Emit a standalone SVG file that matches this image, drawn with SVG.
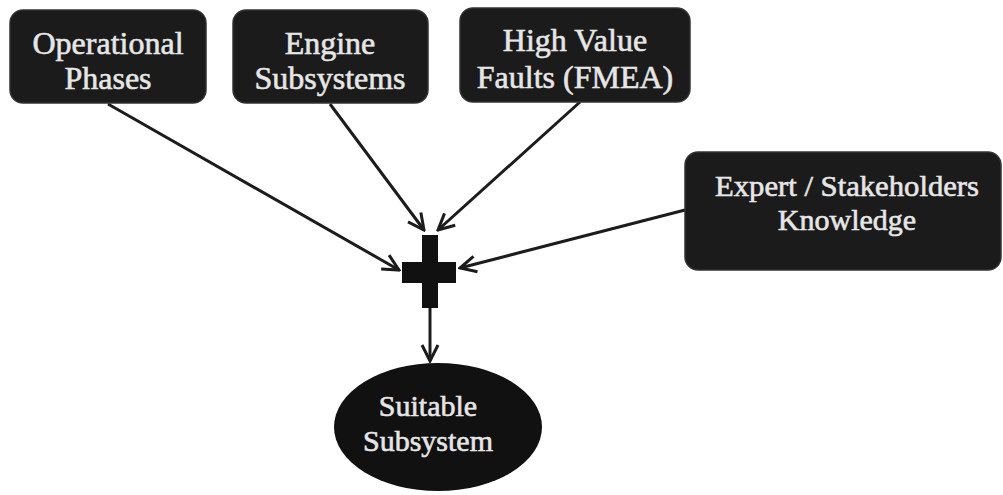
<svg xmlns="http://www.w3.org/2000/svg" width="1003" height="495" viewBox="0 0 1003 495">
  <defs>
    <marker id="arrow" viewBox="0 0 20 20" refX="18" refY="10" markerWidth="20" markerHeight="20" markerUnits="userSpaceOnUse" orient="auto">
      <path d="M2,2 L18,10 L2,18" fill="none" stroke="#1c1c1c" stroke-width="3" stroke-linejoin="miter"/>
    </marker>
  </defs>
  <style>
    .box { fill: #1b1b1b; stroke: #333; stroke-width: 1.5; }
    .label { font-family: "Liberation Serif", "Times New Roman", serif; font-size: 32px; fill: #e6e6e6; text-anchor: middle; stroke: #e6e6e6; stroke-width: 0.6; }
    .tight { font-size: 30px; }
    .link { stroke: #1c1c1c; stroke-width: 3; fill: none; marker-end: url(#arrow); }
  </style>
  <rect width="1003" height="495" fill="#ffffff"/>

  <g id="connectors">
    <line class="link" x1="108" y1="104" x2="399" y2="270"/>
    <line class="link" x1="330" y1="104" x2="424" y2="230"/>
    <line class="link" x1="580" y1="102" x2="438" y2="230"/>
    <line class="link" x1="685" y1="210" x2="460" y2="268"/>
    <line class="link" x1="430" y1="308" x2="430" y2="361"/>
  </g>

  <g id="operational-phases">
    <rect class="box" x="10" y="10" width="196" height="93" rx="13"/>
    <text class="label" x="108" y="54">Operational</text>
    <text class="label" x="108" y="89">Phases</text>
  </g>

  <g id="engine-subsystems">
    <rect class="box" x="233" y="10" width="195" height="93" rx="13"/>
    <text class="label" x="330" y="54">Engine</text>
    <text class="label" x="330" y="89">Subsystems</text>
  </g>

  <g id="high-value-faults">
    <rect class="box" x="460" y="8" width="230" height="94" rx="13"/>
    <text class="label" x="575" y="51">High Value</text>
    <text class="label" x="575" y="88">Faults (FMEA)</text>
  </g>

  <g id="expert-knowledge">
    <rect class="box" x="685" y="152" width="316" height="118" rx="13"/>
    <text class="label tight" x="847" y="196" textLength="264" lengthAdjust="spacingAndGlyphs">Expert / Stakeholders</text>
    <text class="label tight" x="847" y="230">Knowledge</text>
  </g>

  <g id="combine">
    <rect x="422" y="235" width="16" height="73" fill="#111"/>
    <rect x="402" y="262" width="54" height="21" fill="#111"/>
  </g>

  <g id="suitable-subsystem">
    <ellipse cx="438" cy="427" rx="104" ry="64" fill="#111"/>
    <text class="label tight" x="428" y="416">Suitable</text>
    <text class="label tight" x="428" y="451">Subsystem</text>
  </g>
</svg>
